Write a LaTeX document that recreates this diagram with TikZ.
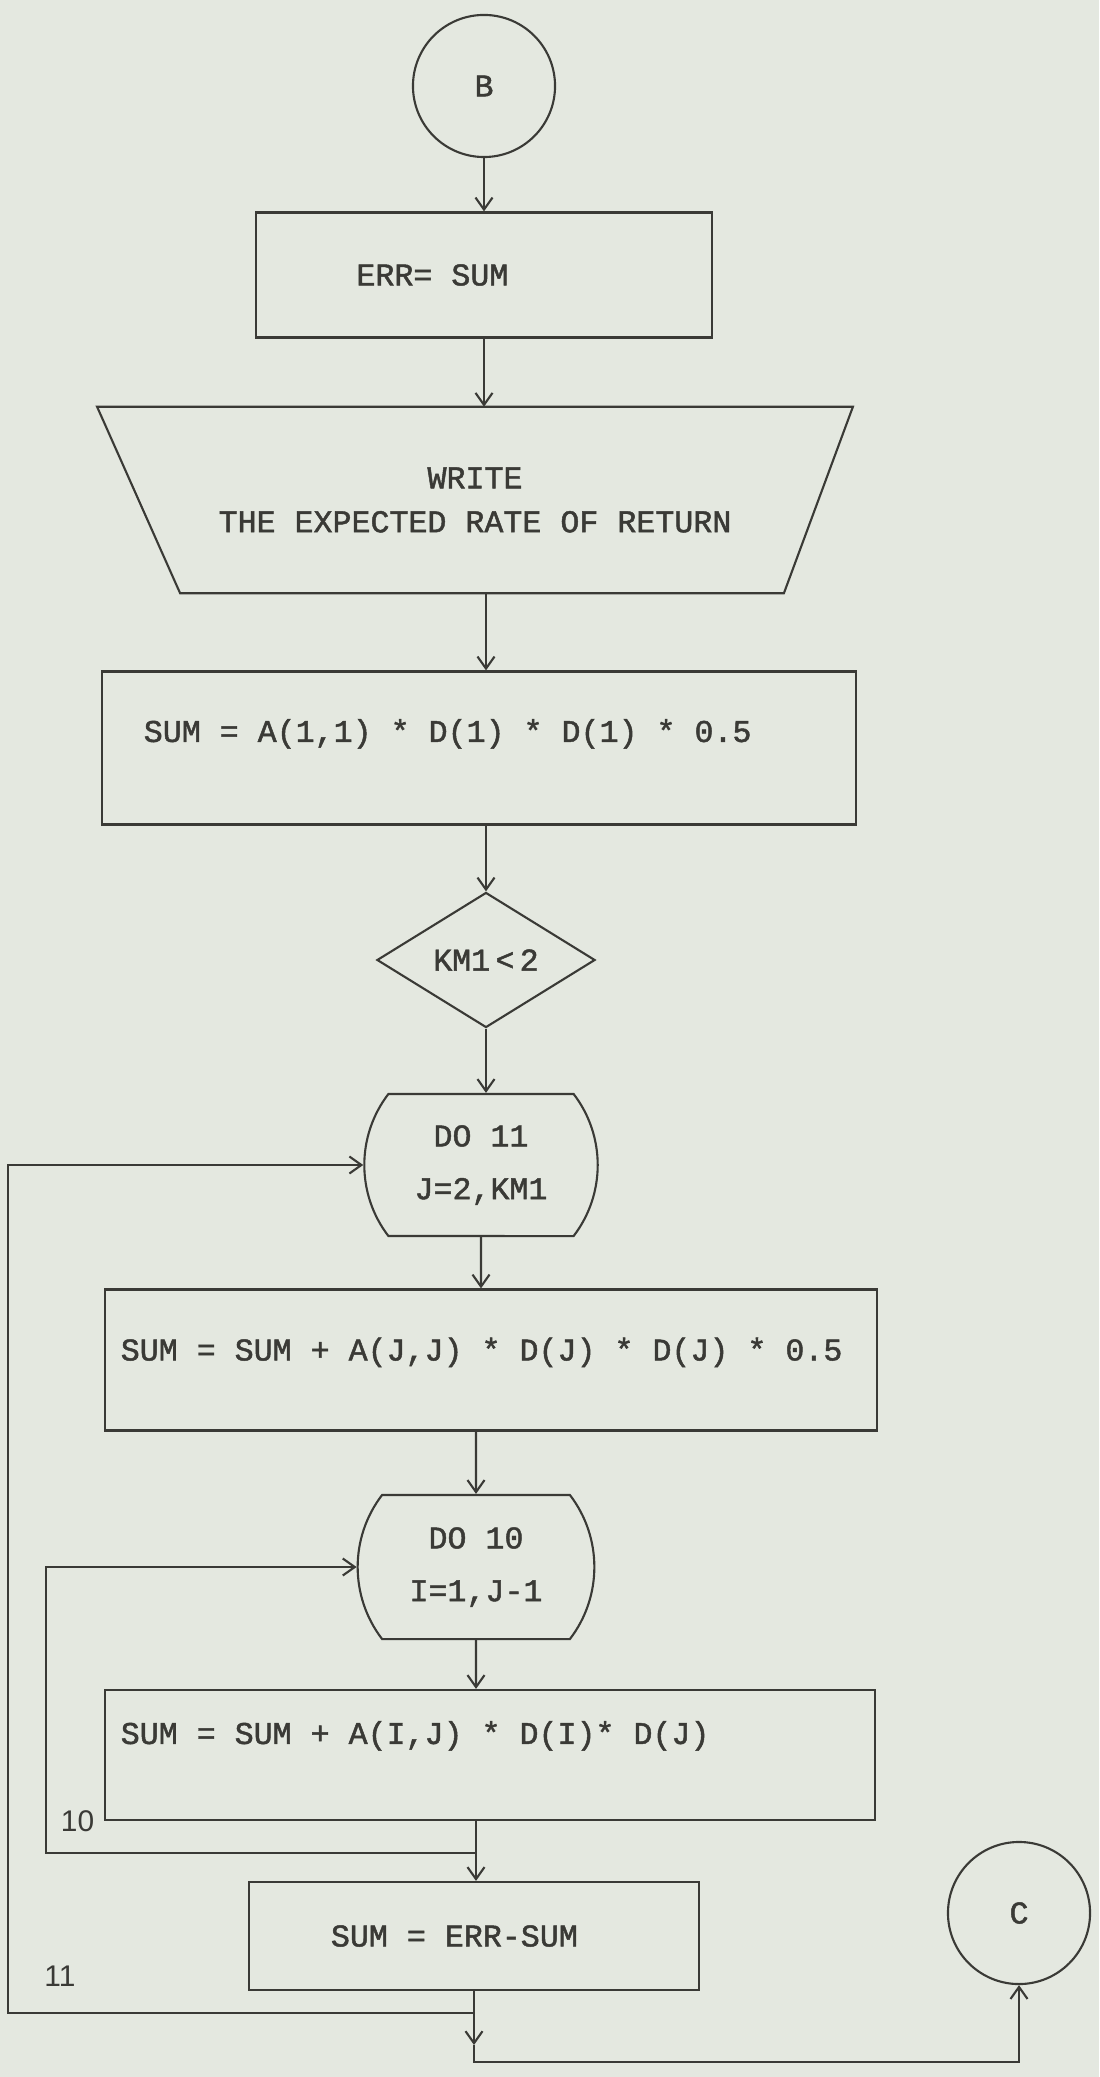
\documentclass[tikz,border=0pt]{standalone}
\usepackage{fontspec}
\usetikzlibrary{shapes.geometric,shapes.misc,arrows.meta}
\newfontfamily\tw[FakeBold=1.5]{Liberation Mono}
\newfontfamily\lab{Liberation Sans}
\newcommand\twfont{\tw\fontsize{9}{11}\selectfont
  \fontdimen2\font=5.4pt\fontdimen3\font=0pt\fontdimen4\font=0pt}
\definecolor{paper}{RGB}{228,232,224}
\definecolor{ink}{RGB}{58,58,54}

\begin{document}
\begin{tikzpicture}[x=0.01cm,y=-0.01cm,>={Straight Barb[length=1.2mm,width=1.7mm]},
  every node/.style={font=\twfont, text=ink},
  flow/.style={draw=ink, line width=0.6pt},
  box/.style={draw=ink, line width=0.6pt, rectangle, align=left,
    execute at begin node={\spaceskip=0pt\xspaceskip=0pt\relax}},
  conn/.style={circle, draw=ink, line width=0.6pt, minimum size=1.42cm, inner sep=0pt},
  doloop/.style={draw=ink, line width=0.6pt, rounded rectangle, rounded rectangle arc length=75,
    minimum width=2.22cm, minimum height=1.42cm, align=center}]
\fill[paper] (0,0) rectangle (1099,2077);
\useasboundingbox (0,0) rectangle (1099,2077);

\node[conn] (B) at (484,86) {B};
\node[box, minimum width=4.55cm, minimum height=1.25cm, inner xsep=1cm, text width=2.55cm] (err) at (484,275) {ERR= SUM};
\node[minimum width=7.54cm, minimum height=1.85cm, align=center] (wr) at (475,500) {WRITE\\[1.5pt]THE EXPECTED RATE OF RETURN};
\draw[flow] (wr.north west) -- (wr.north east) -- ([xshift=-0.69cm]wr.south east)
  -- ([xshift=0.83cm]wr.south west) -- cycle;
\node[box, minimum width=7.54cm, minimum height=1.53cm, inner xsep=0.42cm, text width=6.70cm, text depth=0.35cm] (sum1) at (479,748) {SUM = A(1,1) * D(1) * D(1) * 0.5};
\node[diamond, draw=ink, line width=0.6pt, minimum width=2.18cm, minimum height=1.35cm, inner sep=0pt] (km) at (486,960) {KM1\,<\,2};
\node[doloop] (do11) at (481,1165) {DO 11\\[4pt]J=2,KM1};
\node[box, minimum width=7.72cm, minimum height=1.41cm, inner xsep=0.16cm, text width=7.40cm, text depth=0.22cm] (sumjj) at (491,1360) {SUM = SUM + A(J,J) * D(J) * D(J) * 0.5};
\node[doloop, minimum height=1.44cm] (do10) at (476,1567) {DO 10\\[4pt]I=1,J-1};
\node[box, minimum width=7.70cm, minimum height=1.30cm, inner xsep=0.16cm, text width=7.38cm, text depth=0.45cm] (sumij) at (490,1755) {SUM = SUM + A(I,J) * D(I)* D(J)};
\node[box, minimum width=4.50cm, minimum height=1.08cm, inner xsep=0.82cm, text width=2.86cm] (errsum) at (474,1936) {SUM = ERR-SUM};
\node[conn] (C) at (1019,1913) {C};

\node[font=\lab\fontsize{8.5}{10}\selectfont, anchor=east, inner xsep=2.5pt, inner ysep=0pt] (n10) at (sumij.south west) {10};
\node[font=\lab\fontsize{8.5}{10}\selectfont, inner sep=0pt] (n11) at (60,1976) {11};

\coordinate (j10) at (476,1853);
\coordinate (l10) at (46,1853);
\coordinate (j11) at (474,2013);
\coordinate (l11) at (8,2013);
\coordinate (a11) at (474,2045);
\coordinate (bot) at (474,2062);

\draw[flow,->] (B) -- (B |- err.north);
\draw[flow,->] (err) -- (err |- wr.north);
\draw[flow,->] (km |- wr.south) -- (km |- sum1.north);
\draw[flow,->] (km |- sum1.south) -- (km);
\draw[flow,->] (km) -- (km |- do11.north);
\draw[flow,->] (do11) -- (do11 |- sumjj.north);
\draw[flow,->] (do10 |- sumjj.south) -- (do10);
\draw[flow,->] (do10) -- (do10 |- sumij.north);
\draw[flow,->] (do10 |- sumij.south) -- (do10 |- errsum.north);
\draw[flow,->] (j10) -- (l10) |- (do10.west);
\draw[flow,->] (errsum) -- (a11);
\draw[flow,->] (a11) -- (bot) -| (C);
\draw[flow,->] (j11) -- (l11) |- (do11.west);
\end{tikzpicture}
\end{document}
